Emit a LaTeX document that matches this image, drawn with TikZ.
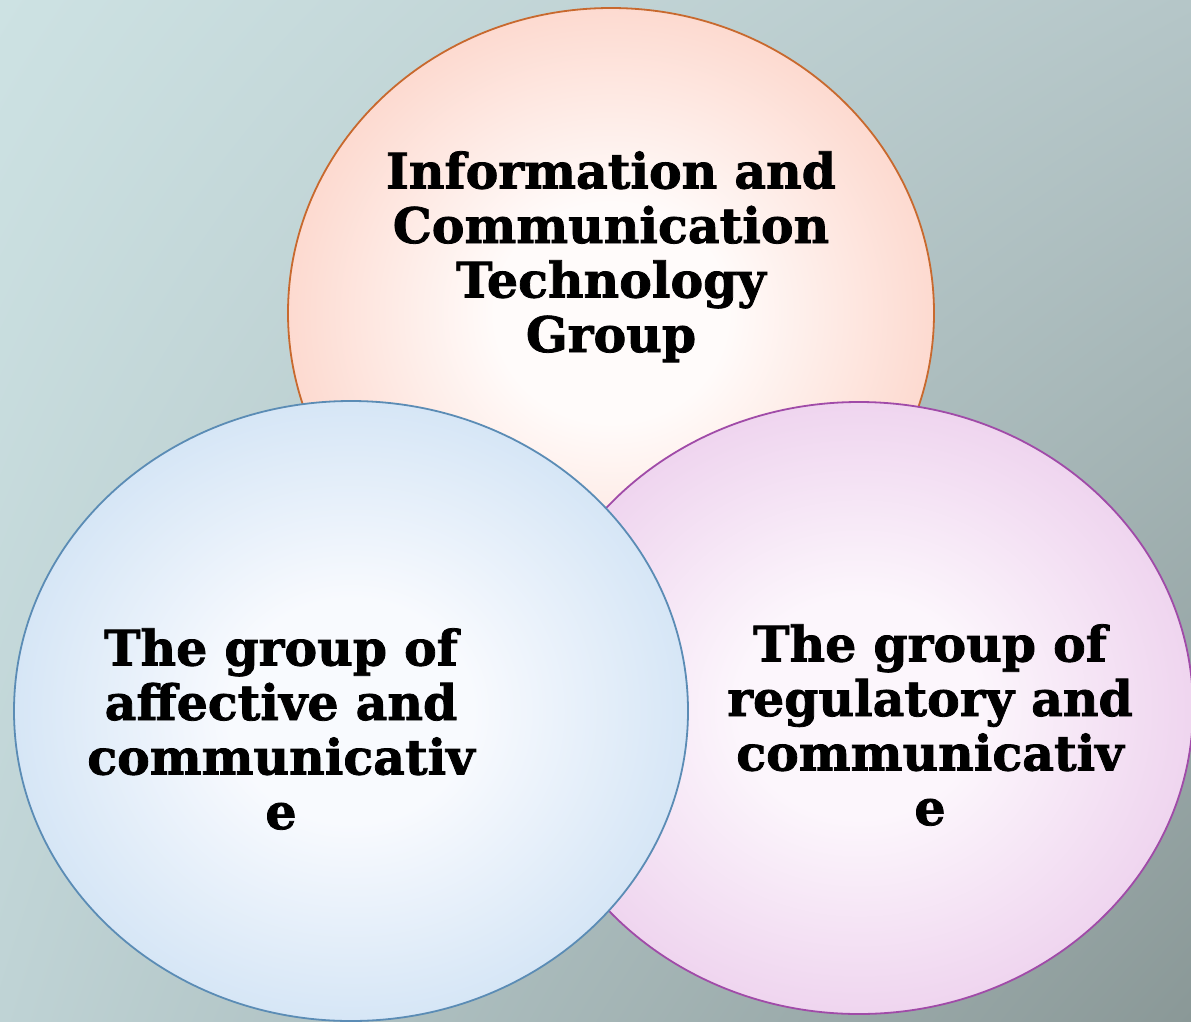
\documentclass[tikz,border=0pt]{standalone}
\usepackage{fontspec}
\usetikzlibrary{shadings}
\setmainfont{DejaVu Serif}
\newfontfamily\lblfont[FakeBold=1.6]{DejaVu Serif Bold}
\definecolor{bgTL}{HTML}{CDE2E3}
\definecolor{bgTR}{HTML}{B5C6C8}
\definecolor{bgBL}{HTML}{BFD3D5}
\definecolor{bgBR}{HTML}{8A9897}
\definecolor{topOut}{HTML}{FDDAD0}
\definecolor{topIn}{HTML}{FFFBFA}
\definecolor{topLine}{HTML}{C8692E}
\definecolor{leftOut}{HTML}{D6E6F6}
\definecolor{leftIn}{HTML}{F8FAFE}
\definecolor{leftLine}{HTML}{5B8CB5}
\definecolor{rightOut}{HTML}{EFD5EF}
\definecolor{rightIn}{HTML}{FCF6FC}
\definecolor{rightLine}{HTML}{A04BA8}
\pgfdeclareradialshading{topshade}{\pgfpoint{0bp}{0bp}}{color(0bp)=(topIn); color(9bp)=(topIn); color(25bp)=(topOut); color(50bp)=(topOut)}
\pgfdeclareradialshading{leftshade}{\pgfpoint{0bp}{0bp}}{color(0bp)=(leftIn); color(9bp)=(leftIn); color(25bp)=(leftOut); color(50bp)=(leftOut)}
\pgfdeclareradialshading{rightshade}{\pgfpoint{0bp}{0bp}}{color(0bp)=(rightIn); color(9bp)=(rightIn); color(25bp)=(rightOut); color(50bp)=(rightOut)}
\tikzset{
  lbl/.style={align=center, font=\lblfont\fontsize{49}{54.5}\selectfont, text=black, inner sep=0pt},
  ring/.style={line width=1.8pt}
}
\begin{document}
\begin{tikzpicture}[x=1pt,y=-1pt]
\useasboundingbox (0,0) rectangle (1191,1021);
\shade[upper left=bgTL, upper right=bgTR, lower left=bgBL, lower right=bgBR] (0,0) rectangle (1191,1021);
% top circle
\shade[shading=topshade] (611,313) ellipse [x radius=323, y radius=305];
\draw[ring, topLine] (611,313) ellipse [x radius=323, y radius=305];
% right circle
\shade[shading=rightshade] (859,708) ellipse [x radius=334, y radius=306];
\draw[ring, rightLine] (859,708) ellipse [x radius=334, y radius=306];
% left circle
\shade[shading=leftshade] (351,711) ellipse [x radius=337, y radius=310];
\draw[ring, leftLine] (351,711) ellipse [x radius=337, y radius=310];
% labels
\node[lbl, anchor=base] (ict) at (611,352) {Information and\\Communication\\Technology\\Group};
\node[lbl, anchor=base] (aff) at (281,829) {The group of\\affective and\\communicativ\\e};
\node[lbl, anchor=base] (reg) at (930,825) {The group of\\regulatory and\\communicativ\\e};
\end{tikzpicture}
\end{document}
